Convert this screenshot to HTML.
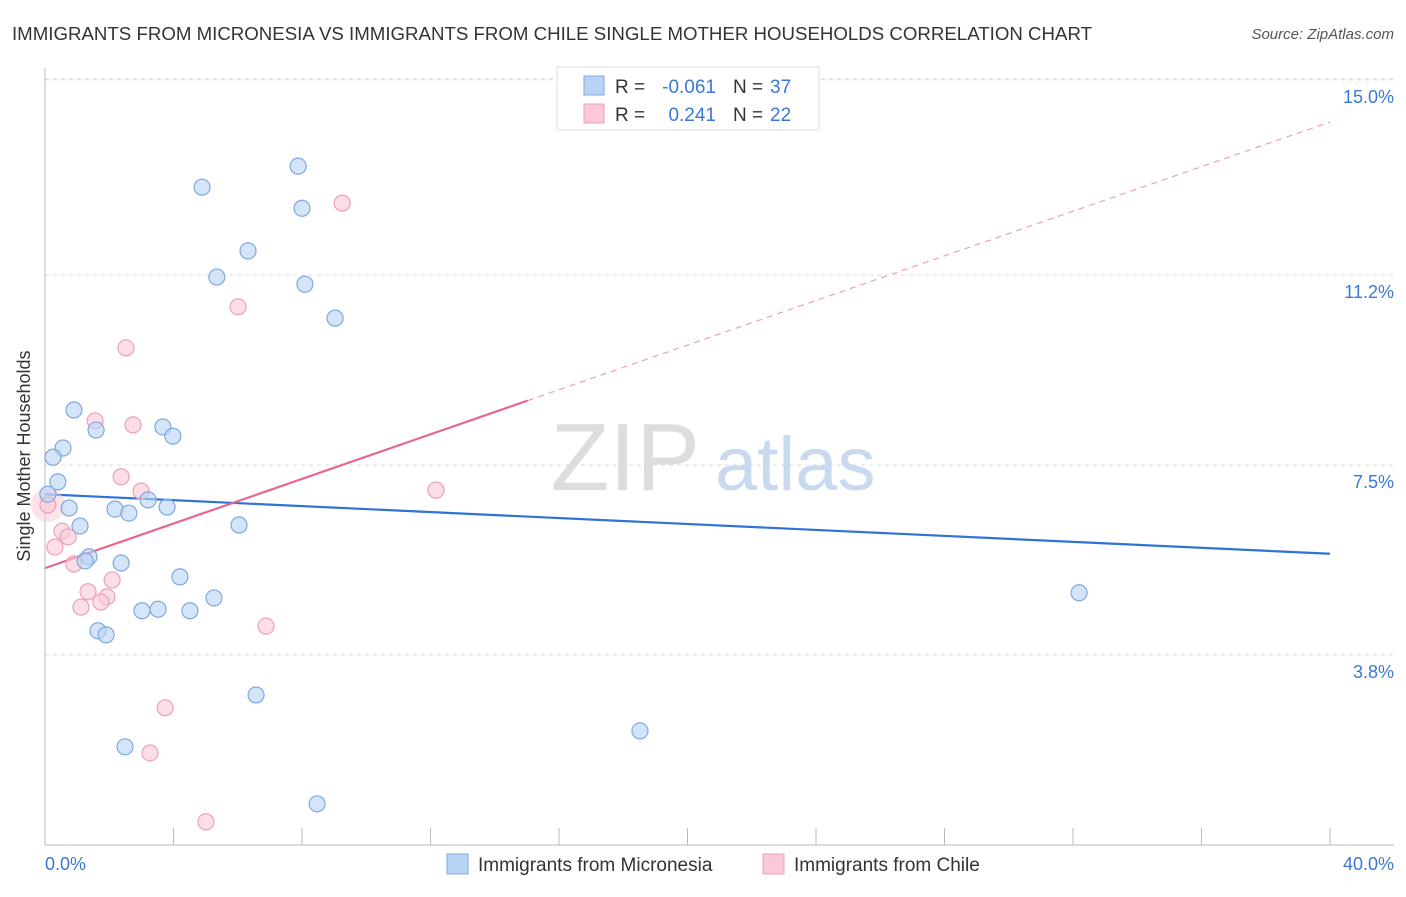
<!DOCTYPE html>
<html><head><meta charset="utf-8"><style>
body{margin:0;background:#fff;font-family:"Liberation Sans",sans-serif;}
svg text{font-family:"Liberation Sans",sans-serif;}
</style></head><body>
<svg width="1406" height="892" viewBox="0 0 1406 892">
<text x="12" y="40" font-size="18" fill="#333" textLength="1080" lengthAdjust="spacingAndGlyphs">IMMIGRANTS FROM MICRONESIA VS IMMIGRANTS FROM CHILE SINGLE MOTHER HOUSEHOLDS CORRELATION CHART</text>
<text x="1394" y="39" font-size="15" fill="#555" text-anchor="end" font-style="italic">Source: ZipAtlas.com</text>
<g id="grid"></g>
<text x="700" y="490" font-size="96" fill="#ddd" text-anchor="end" font-family="Liberation Serif">ZIP</text>
<text x="715" y="490" font-size="76" fill="#c9daf0">atlas</text>
<g id="lines"></g>
<g id="pts"></g>
<text x="30" y="456" font-size="18" fill="#333" text-anchor="middle" transform="rotate(-90 30 456)">Single Mother Households</text>
<text x="45" y="870" font-size="18" fill="#3a78d4">0.0%</text>
<text x="1394" y="870" font-size="18" fill="#3a78d4" text-anchor="end">40.0%</text>
<g>
<rect x="557" y="67" width="262" height="63" fill="#fff" stroke="#ddd"/>
<rect x="584" y="76" width="20" height="19" fill="#b9d3f5" stroke="#7ea8e0"/>
<rect x="584" y="104" width="20" height="19" fill="#fac8d6" stroke="#eea0b8"/>
<text x="615" y="93" font-size="19" fill="#333">R =</text>
<text x="716" y="93" font-size="19" fill="#3a78d4" text-anchor="end">-0.061</text>
<text x="733" y="93" font-size="19" fill="#333">N =</text>
<text x="770" y="93" font-size="19" fill="#3a78d4">37</text>
<text x="615" y="121" font-size="19" fill="#333">R =</text>
<text x="716" y="121" font-size="19" fill="#3a78d4" text-anchor="end">0.241</text>
<text x="733" y="121" font-size="19" fill="#333">N =</text>
<text x="770" y="121" font-size="19" fill="#3a78d4">22</text>
</g>
<g>
<rect x="447" y="854" width="21" height="20" fill="#b9d3f5" stroke="#7ea8e0"/>
<text x="478" y="871" font-size="19" fill="#333">Immigrants from Micronesia</text>
<rect x="763" y="854" width="21" height="20" fill="#fac8d6" stroke="#eea0b8"/>
<text x="794" y="871" font-size="19" fill="#333">Immigrants from Chile</text>
</g>
</svg>
<script>
const yTicks=[3.8,7.5,11.2,15.0];
const yTickLabels=["3.8%","7.5%","11.2%","15.0%"];
const xTicks=[0,4,8,12,16,20,24,28,32,36,40];
const blueX=[7.88,4.89,8.00,6.32,5.35,8.09,9.03,0.90,1.59,3.67,3.98,0.56,0.25,0.40,0.09,0.75,2.18,2.61,3.21,3.80,1.09,6.04,1.37,1.25,2.37,4.20,5.26,3.02,3.52,4.51,1.65,1.90,32.19,6.57,2.49,18.52,8.47];
const blueY=[13.32,12.91,12.50,11.67,11.16,11.02,10.36,8.57,8.18,8.24,8.06,7.83,7.65,7.17,6.93,6.66,6.64,6.56,6.82,6.68,6.31,6.33,5.71,5.63,5.59,5.32,4.91,4.66,4.69,4.66,4.27,4.19,5.01,3.02,2.01,2.32,0.90];
const pinkX=[9.25,6.01,2.52,1.56,2.74,2.37,2.99,12.17,0.09,0.53,0.72,0.31,0.90,2.09,1.34,1.93,1.74,1.12,6.88,3.74,3.27,5.01];
const pinkY=[12.60,10.58,9.78,8.36,8.28,7.27,6.99,7.01,6.72,6.21,6.10,5.90,5.57,5.26,5.03,4.93,4.83,4.73,4.36,2.77,1.89,0.55];
const blueLine=[6.93,5.77];
const pinkLine=[5.49,14.18];
const pinkSolidEnd=15.03;
const NS="http://www.w3.org/2000/svg";
const sx=v=>45+v/40*1285;
const sy=v=>850-v*51.34;
function mk(tag,attrs,parent){const e=document.createElementNS(NS,tag);for(const k in attrs)e.setAttribute(k,attrs[k]);parent.appendChild(e);return e;}
const grid=document.getElementById('grid');
yTicks.forEach((t,i)=>{
 const l=mk('line',{x1:45,x2:1394,y1:sy(t),y2:sy(t),stroke:'#ddd','stroke-dasharray':'4 4'},grid);
 
 
 const tx=mk('text',{x:1394,y:sy(t)+23,'font-size':18,fill:'#3a78d4','text-anchor':'end'},grid);
 tx.textContent=yTickLabels[i];
 
 
});
const topLine=mk('line',{x1:45,x2:1394,y1:79,y2:79,stroke:'#ddd','stroke-dasharray':'4 4'},grid);


const ya=mk('line',{x1:45,x2:45,y1:68,y2:845,stroke:'#bbb'},grid);


const xa=mk('line',{x1:45,x2:1394,y1:845,y2:845,stroke:'#bbb'},grid);


xTicks.forEach(t=>{
 const l=mk('line',{x1:sx(t),x2:sx(t),y1:828,y2:845,stroke:'#bbb'},grid);
 
 
});
const lines=document.getElementById('lines');
const bl=mk('line',{x1:sx(0),y1:sy(blueLine[0]),x2:sx(40),y2:sy(blueLine[1]),stroke:'#2f73d4','stroke-width':2.2},lines);


const pEnd=pinkLine[0]+(pinkLine[1]-pinkLine[0])*pinkSolidEnd/40;
const pl=mk('line',{x1:sx(0),y1:sy(pinkLine[0]),x2:sx(pinkSolidEnd),y2:sy(pEnd),stroke:'#e8668f','stroke-width':2.2},lines);


const pd=mk('line',{x1:sx(pinkSolidEnd),y1:sy(pEnd),x2:sx(40),y2:sy(pinkLine[1]),stroke:'#eca0b8','stroke-width':1.2,'stroke-dasharray':'6 5'},lines);


const pts=document.getElementById('pts');
const big=mk('circle',{cx:sx(0.09),cy:sy(6.72),r:17,fill:'#fac8d6','fill-opacity':0.5,stroke:'none'},pts);


pinkX.forEach((x,i)=>{
 const c=mk('circle',{cx:sx(x),cy:sy(pinkY[i]),r:8,fill:'#fac8d6','fill-opacity':0.6,stroke:'#eea0b8','stroke-width':1.2},pts);
 
 
});
blueX.forEach((x,i)=>{
 const c=mk('circle',{cx:sx(x),cy:sy(blueY[i]),r:8,fill:'#b9d3f5','fill-opacity':0.6,stroke:'#7ea8e0','stroke-width':1.2},pts);
 
 
});
</script>
</body></html>
